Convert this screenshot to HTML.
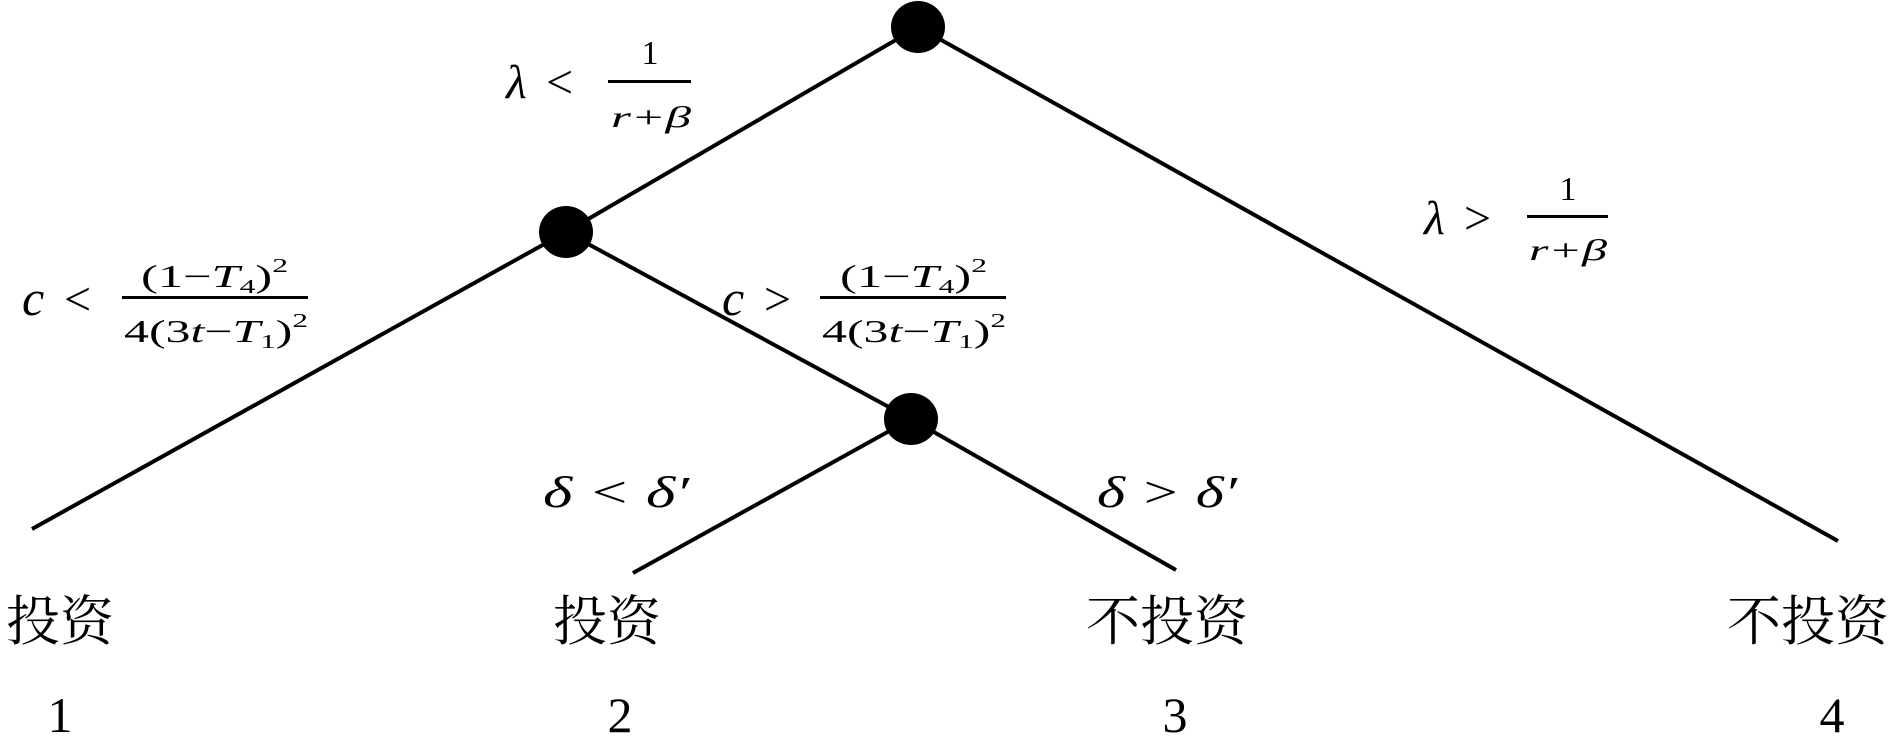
<!DOCTYPE html>
<html><head><meta charset="utf-8"><style>
html,body{margin:0;padding:0;background:#fff;}
svg{display:block;}
.m{font-family:"Liberation Serif",serif;font-style:italic;}
.r{font-family:"Liberation Serif",serif;}
.cj{font-family:"Liberation Serif","Noto Serif CJK SC",serif;}
</style></head><body>
<svg width="1890" height="736" viewBox="0 0 1890 736" xmlns="http://www.w3.org/2000/svg">
<g stroke="#000" stroke-width="4" fill="none">
<line x1="918" y1="27" x2="566" y2="232"/>
<line x1="918" y1="27" x2="1838" y2="541"/>
<line x1="566" y1="232" x2="32" y2="529"/>
<line x1="566" y1="232" x2="911" y2="419"/>
<line x1="911" y1="419" x2="633" y2="573"/>
<line x1="911" y1="419" x2="1176" y2="570"/>
</g>
<g fill="#000">
<ellipse cx="918" cy="27" rx="27" ry="26"/>
<ellipse cx="566" cy="232" rx="27" ry="26"/>
<ellipse cx="911" cy="419" rx="27" ry="26"/>
</g>
<text x="506" y="98" class="m" font-size="48">λ</text>
<text x="546" y="98" class="r" font-size="48">&lt;</text>
<rect x="608" y="80" width="83" height="3"/>
<text x="650" y="64" class="r" font-size="34" text-anchor="middle">1</text>
<text x="611" y="127" class="m" font-size="30" textLength="80" lengthAdjust="spacingAndGlyphs">r+β</text>
<text x="1424" y="234" class="m" font-size="48">λ</text>
<text x="1464" y="234" class="r" font-size="48">&gt;</text>
<rect x="1527" y="215" width="81" height="3"/>
<text x="1568" y="200" class="r" font-size="34" text-anchor="middle">1</text>
<text x="1529" y="260" class="m" font-size="30" textLength="78" lengthAdjust="spacingAndGlyphs">r+β</text>
<text x="22" y="315" class="m" font-size="50">c</text>
<text x="64" y="315" class="r" font-size="48">&lt;</text>
<rect x="122" y="296" width="186" height="3"/>
<text x="141" y="287" class="r" font-size="32" textLength="147" lengthAdjust="spacingAndGlyphs">(1−<tspan class="m">T</tspan><tspan font-size="20" dy="6">4</tspan><tspan dy="-6">)</tspan><tspan font-size="20" dy="-15">2</tspan></text>
<text x="124" y="342" class="r" font-size="32" textLength="184" lengthAdjust="spacingAndGlyphs">4(3<tspan class="m">t</tspan>−<tspan class="m">T</tspan><tspan font-size="20" dy="6">1</tspan><tspan dy="-6">)</tspan><tspan font-size="20" dy="-15">2</tspan></text>
<text x="722" y="315" class="m" font-size="50">c</text>
<text x="764" y="315" class="r" font-size="48">&gt;</text>
<rect x="820" y="296" width="186" height="3"/>
<text x="840" y="287" class="r" font-size="32" textLength="147" lengthAdjust="spacingAndGlyphs">(1−<tspan class="m">T</tspan><tspan font-size="20" dy="6">4</tspan><tspan dy="-6">)</tspan><tspan font-size="20" dy="-15">2</tspan></text>
<text x="822" y="342" class="r" font-size="32" textLength="184" lengthAdjust="spacingAndGlyphs">4(3<tspan class="m">t</tspan>−<tspan class="m">T</tspan><tspan font-size="20" dy="6">1</tspan><tspan dy="-6">)</tspan><tspan font-size="20" dy="-15">2</tspan></text>
<text x="543" y="507" class="m" font-size="44" textLength="146" lengthAdjust="spacingAndGlyphs">δ <tspan class="r">&lt;</tspan> δ′</text>
<text x="1097" y="507" class="m" font-size="44" textLength="140" lengthAdjust="spacingAndGlyphs">δ <tspan class="r">&gt;</tspan> δ′</text>
<text x="60" y="640" class="cj" font-size="54" text-anchor="middle">投资</text>
<text x="607" y="640" class="cj" font-size="54" text-anchor="middle">投资</text>
<text x="1167" y="640" class="cj" font-size="54" text-anchor="middle">不投资</text>
<text x="1808" y="640" class="cj" font-size="54" text-anchor="middle">不投资</text>
<text x="60" y="732" class="r" font-size="50" text-anchor="middle">1</text>
<text x="620" y="732" class="r" font-size="50" text-anchor="middle">2</text>
<text x="1175" y="732" class="r" font-size="50" text-anchor="middle">3</text>
<text x="1832" y="732" class="r" font-size="50" text-anchor="middle">4</text>
</svg>
</body></html>
